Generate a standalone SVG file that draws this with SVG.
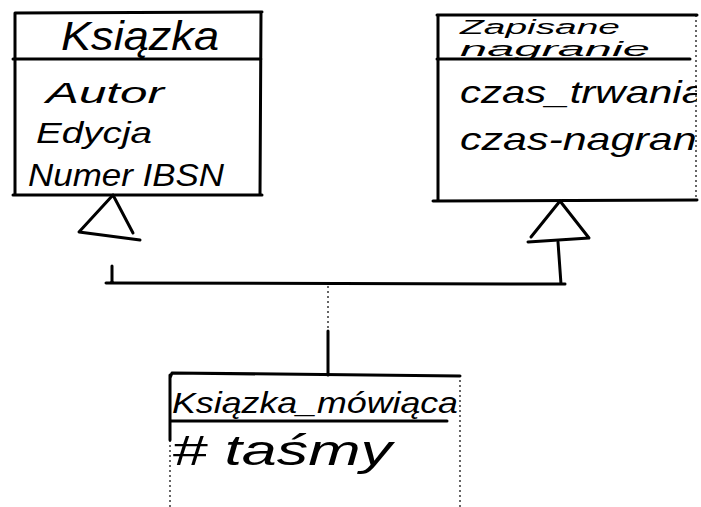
<svg xmlns="http://www.w3.org/2000/svg" width="701" height="507" viewBox="0 0 701 507">
<defs>
<style>
.ln{fill:none;stroke:#000;stroke-width:3;stroke-linecap:round;stroke-linejoin:round}
.fn{fill:none;stroke:#000;stroke-width:1.2;stroke-dasharray:2 3}
.tx{font-family:"Liberation Sans","DejaVu Sans",sans-serif;font-style:italic;fill:#000}
</style>
<clipPath id="rc"><rect x="437" y="14" width="260" height="190"/></clipPath>
</defs>
<rect width="701" height="507" fill="#fff"/>
<g id="ksiazka">
<path class="ln" d="M15,13 L262,12 M15,13 L15,195 M261,12 L260,195 M13,195 L262,195 M13,59 L261,59"/>
<text class="tx" x="140" y="50" font-size="40" text-anchor="middle" textLength="158" lengthAdjust="spacingAndGlyphs">Ksiązka</text>
<text class="tx" x="46" y="103" font-size="30" textLength="118" lengthAdjust="spacingAndGlyphs">Autor</text>
<text class="tx" x="36" y="143" font-size="30" textLength="116" lengthAdjust="spacingAndGlyphs">Edycja</text>
<text class="tx" x="28" y="186" font-size="32" textLength="196" lengthAdjust="spacingAndGlyphs">Numer IBSN</text>
</g>
<g id="zapisane">
<path class="ln" d="M437,15 L697,15 M438,15 L438,201 M433,201 L697,200 M437,59 L690,59"/>
<path class="fn" d="M696,15 L696,200"/>
<g clip-path="url(#rc)">
<text class="tx" x="460" y="34" font-size="20" textLength="160" lengthAdjust="spacingAndGlyphs">Zapisane</text>
<text class="tx" x="460" y="56" font-size="20" textLength="190" lengthAdjust="spacingAndGlyphs">nagranie</text>
<text class="tx" x="460" y="103" font-size="32" textLength="245" lengthAdjust="spacingAndGlyphs">czas_trwania</text>
<text class="tx" x="460" y="150" font-size="32" textLength="270" lengthAdjust="spacingAndGlyphs">czas-nagrania</text>
</g>
</g>
<g id="ksiazka_mowiaca">
<path class="ln" d="M170,378 L172,373 L460,376 M170,375 L170,440 M170,421 L447,421"/>
<path class="fn" d="M170,440 L170,507 M460,380 L460,507"/>
<text class="tx" x="172" y="413" font-size="30" textLength="286" lengthAdjust="spacingAndGlyphs">Ksiązka_mówiąca</text>
<text class="tx" x="172" y="465" font-size="42" textLength="220" lengthAdjust="spacingAndGlyphs"># taśmy</text>
</g>
<g id="connectors">
<path class="ln" d="M113,195 L79,232 L140,240 M113,195 L133,233"/>
<path class="ln" d="M560,201 L531,237 M560,201 L589,238 L528,242"/>
<path class="ln" d="M112,266 L112,283 M106,283 L565,284 M558,242 L561,284 M328,331 L328,375"/>
<path class="fn" d="M328,286 L328,330"/>
</g>
</svg>
